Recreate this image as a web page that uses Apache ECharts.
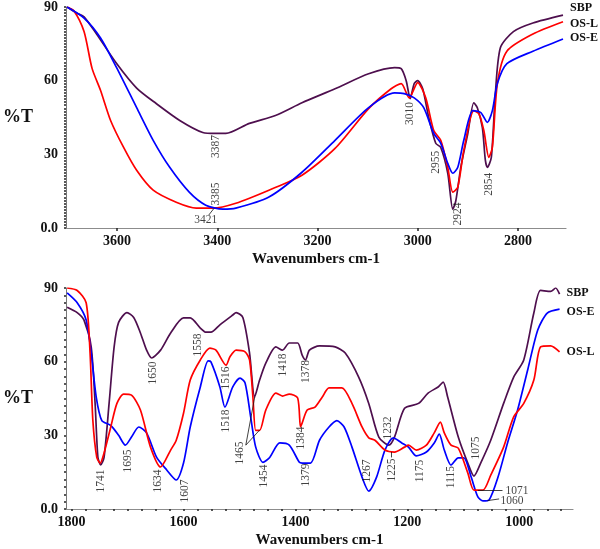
<!DOCTYPE html>
<html><head><meta charset="utf-8">
<script src="https://cdn.jsdelivr.net/npm/echarts@6/dist/echarts.min.js"></script>
<style>html,body{margin:0;padding:0;background:#fff}#c{width:600px;height:549px}</style>
</head><body><div id="c"></div>
<script>
// ---------- DATA ----------
const seriesNames = ['SBP', 'OS-L', 'OS-E'];

// Top panel (3700-2700 cm-1): [wavenumber, %T]
const topSBP = [[3700,90],[3680,87.5],[3666,86],[3641,79],[3601,67],[3561,57],[3522,50.7],[3475,43.8],[3429,38.9],[3403,38.5],[3383,38.5],[3336,42.6],[3284,45.8],[3231,51],[3165,56.7],[3098,62.8],[3046,65.3],[3033,64.9],[3023,60],[3015,52.7],[3007,58.8],[3000,60],[2990,56.7],[2978,45],[2964,34.5],[2954,32.8],[2940,22.3],[2930,7.7],[2924,11],[2914,24.7],[2900,38.5],[2888,51],[2881,49],[2871,41],[2865,27.6],[2861,24.7],[2853,28.8],[2845,54.7],[2835,73.4],[2809,80],[2770,83.5],[2710,86.7]];
const topOSL = [[3700,90],[3686,88.4],[3666,80],[3650,65],[3633,56],[3613,43.8],[3587,32.8],[3561,23.5],[3528,15.4],[3482,10.5],[3442,8.1],[3409,8.1],[3363,10.1],[3297,15.4],[3231,21.5],[3165,32.4],[3098,48.6],[3053,56.7],[3033,58.8],[3017,53],[3000,59.2],[2984,53],[2968,39.7],[2954,35.7],[2940,24.7],[2930,14.6],[2920,16.6],[2908,31.6],[2888,47.8],[2878,46.6],[2868,39.7],[2858,28.8],[2851,32.8],[2841,58.8],[2822,72],[2770,79],[2710,84]];
const topOSE = [[3700,90],[3666,85.5],[3633,77.4],[3601,65.3],[3561,49],[3528,35.7],[3495,24.7],[3456,14.6],[3423,9.3],[3389,7.7],[3363,8.1],[3297,12.6],[3231,22.7],[3165,35.7],[3098,49],[3046,55],[3027,54.7],[3007,53],[2988,49],[2968,38.5],[2954,34.5],[2940,26.3],[2930,22.3],[2920,24.7],[2908,35.7],[2890,47.8],[2874,47],[2861,43],[2851,47.8],[2841,58.8],[2822,66.9],[2770,72],[2710,77]];

// Bottom panel (1810-905 cm-1)
const botSBP = [[1808,82.2],[1790,80],[1778,77],[1765,66],[1758,43],[1753,21],[1748,18],[1742,21],[1733,43],[1724,66],[1716,76],[1701,80],[1689,78],[1677,71.7],[1666,64.7],[1657,61.5],[1641,64.7],[1623,71.7],[1600,77.8],[1588,77.8],[1570,73.7],[1560,72],[1551,72],[1535,75],[1512,79],[1506,80],[1494,78],[1482,63.5],[1473,45.6],[1464,52.5],[1453,59.4],[1435,66],[1423,64.7],[1411,67.6],[1396,67.6],[1388,62.7],[1382,60.7],[1375,64.7],[1357,66.4],[1329,66],[1311,63.5],[1287,53.7],[1269,43],[1251,29.3],[1233,26],[1223,29.3],[1205,41],[1180,43],[1163,47.2],[1145,49.7],[1136,51.7],[1128,45.6],[1109,29.3],[1092,18.7],[1081,13.4],[1069,18.7],[1051,28],[1028,43],[1010,53.7],[992,60.7],[974,79.8],[962,89],[944,88.6],[935,90],[928,87.5]];
const botOSL = [[1808,90],[1790,89],[1774,84],[1767,63.5],[1762,36],[1755,21],[1749,18.7],[1742,22.8],[1730,33.4],[1719,43],[1707,46.8],[1693,46.4],[1677,40.3],[1659,25.2],[1641,17.1],[1623,24],[1613,28],[1600,39],[1588,52.5],[1570,60.7],[1553,65.5],[1542,64.7],[1524,58.6],[1517,62],[1506,64.7],[1490,64],[1482,60.7],[1476,45.6],[1471,32],[1464,32],[1453,40.3],[1435,47.2],[1423,46],[1411,46.8],[1396,45.2],[1391,33.4],[1388,35],[1379,40.3],[1365,41.5],[1352,45.6],[1340,49.3],[1317,49.3],[1299,43],[1281,33.4],[1269,29],[1258,28],[1240,24],[1223,23.2],[1205,25.2],[1198,26],[1184,24],[1166,26],[1152,31],[1141,35.4],[1134,31],[1122,26],[1109,24.8],[1092,14.7],[1081,7.7],[1065,7.7],[1051,13.8],[1028,25.2],[1010,37.5],[992,43],[974,52.5],[962,66],[944,66.4],[928,64]];
const botOSE = [[1808,88],[1790,84],[1774,77],[1765,63.5],[1756,45.6],[1746,36],[1730,34],[1716,30],[1704,26],[1693,29.3],[1680,33.4],[1666,31],[1648,21],[1630,15.9],[1613,11.8],[1600,18.7],[1588,33.4],[1570,49.7],[1556,60.3],[1551,59.9],[1535,49.7],[1526,41.5],[1512,49.7],[1499,53.3],[1490,51.3],[1480,37.5],[1471,25.2],[1458,19],[1446,21],[1428,26.9],[1411,26],[1393,19],[1388,18.7],[1373,18.7],[1357,28],[1340,33.4],[1326,36],[1313,33.4],[1299,25.2],[1281,13],[1269,7.3],[1255,13],[1240,24],[1225,29],[1210,26.9],[1198,25.2],[1184,21.6],[1166,23.2],[1152,26.9],[1143,30.5],[1134,24],[1122,17.9],[1109,20.8],[1099,20.8],[1086,13],[1074,4.9],[1065,3.3],[1054,3.7],[1038,13],[1021,26.9],[1003,40.3],[985,56.6],[967,72.9],[950,79.8],[928,81.4]];

// Tick labels
const topXTicks = [3600, 3400, 3200, 3000, 2800];
const botXTicks = [1800, 1600, 1400, 1200, 1000];
const yTicks = [0, 30, 60, 90];

// Peak annotations: [wavenumber, %T (label anchor), text, orientation]
const topPeaks = [[3403,33.2,'3387','v'],[3403,13.8,'3385','v'],[3423,3.2,'3421','h'],[3015,46.6,'3010','v'],[2964,26.8,'2955','v'],[2920,5.7,'2924','v'],[2857,17.8,'2854','v']];
const botPeaks = [[1747.5,11.4,'1741','v'],[1699.6,19.5,'1695','v'],[1646.5,11.4,'1634','v'],[1596.8,7.3,'1607','v'],[1655.3,55.4,'1650','v'],[1573.8,66.8,'1558','v'],[1524,53.3,'1516','v'],[1524,35.8,'1518','v'],[1499,22.8,'1465','v'],[1456.7,13.4,'1454','v'],[1423,58.6,'1418','v'],[1389.4,28.9,'1384','v'],[1381,56,'1378','v'],[1382,13.8,'1379','v'],[1272.3,15.5,'1267','v'],[1235,33,'1232','v'],[1228,15.9,'1225','v'],[1176.6,15.5,'1175','v'],[1121.6,13,'1115','v'],[1077,24.8,'1075','v'],[1004,7.3,'1071','h'],[1013,3.1,'1060','h']];
// Leader lines: [[w1,T1],[w2,T2]]
const topLeaders = [[[3407,7.9],[3417,5.3]]];
const botLeaders = [[[1488.7,26],[1472.7,45.6]],[[1488.7,26],[1463.8,32.2]],[[1228,23.2],[1228,21]],[[1074,7.7],[1030,7.7]],[[1057,3.4],[1036,4.1]]];

// ---------- CHART ----------
const colorMap = {'SBP':'#4e0f4e','OS-L':'#ff0000','OS-E':'#0000ff'};
const serif = 'Liberation Serif, Times New Roman, serif';
const chart = echarts.init(document.getElementById('c'), null, {renderer:'canvas'});

function range(a, b, s){ const r=[]; for(let v=a; v<=b+1e-9; v+=s) r.push(+v.toFixed(3)); return r; }

function xAxisDef(grid, min, max, ticks, minorStep){
  return {
    type:'value', gridIndex:grid, min:min, max:max, inverse:true,
    name:'Wavenumbers cm-1', nameLocation:'middle', nameGap:24,
    nameTextStyle:{fontFamily:serif, fontWeight:'bold', fontSize:15, color:'#111'},
    axisLine:{show:true, onZero:false, lineStyle:{color:'#8c8c8c', width:1.2}},
    axisTick:{show:true, customValues: minorStep ? range(Math.ceil(min/minorStep)*minorStep, max, minorStep) : ticks, length: minorStep?2:3, lineStyle:{color:'#222', width:1.5}},
    axisLabel:{customValues:ticks, margin:6, fontFamily:serif, fontWeight:'bold', fontSize:14, color:'#111', formatter:v => String(v)},
    splitLine:{show:false}
  };
}
function yAxisDef(grid, step){
  return {
    type:'value', gridIndex:grid, min:0, max:90,
    name:'%T', nameLocation:'middle', nameRotate:0, nameGap:33,
    nameTextStyle:{fontFamily:serif, fontWeight:'bold', fontSize:18, color:'#111'},
    axisLine:{show:true, onZero:false, lineStyle:{color:'#777', width:1}},
    axisTick:{show:true, customValues:range(0,90,step), length:2, lineStyle:{color:'#222', width:1.5}},
    axisLabel:{customValues:yTicks, margin:8, fontFamily:serif, fontWeight:'bold', fontSize:14, color:'#111',
      formatter:v => v === 0 ? '0.0' : String(v)},
    splitLine:{show:false}
  };
}

const nameOffsets = [
  {'SBP':[0,-7],'OS-L':[0,2],'OS-E':[0,-1]},
  {'SBP':[0,-1],'OS-E':[0,3],'OS-L':[0,0]}
];

function lineSeries(name, data, grid){
  const d = data.map((p,i) => i === data.length-1 ? {value:p, label:{show:true, position:'right', distance:7, offset:nameOffsets[grid][name], formatter:name, fontFamily:serif, fontWeight:'bold', fontSize:12, color:'#111'}} : p);
  return {
    type:'line', name:name, xAxisIndex:grid, yAxisIndex:grid, data:d,
    showSymbol:true, symbol:'circle', symbolSize:0, smooth:0.25,
    lineStyle:{color:colorMap[name], width:1.7}, itemStyle:{color:colorMap[name]},
    label:{show:false}, animation:false, z:3, silent:true
  };
}
function peakSeries(peaks, grid){
  return {
    type:'scatter', xAxisIndex:grid, yAxisIndex:grid, symbolSize:0, silent:true, animation:false, z:5,
    data: peaks.map(p => ({value:[p[0],p[1]], label:{rotate: p[3]==='v'?90:0}, name:p[2]})),
    label:{show:true, position:'inside', formatter:'{b}', fontFamily:serif, fontSize:11.5, color:'#111'}
  };
}
function leaderSeries(lines, grid){
  return {
    type:'lines', coordinateSystem:'cartesian2d', xAxisIndex:grid, yAxisIndex:grid, silent:true, animation:false, z:4,
    data: lines.map(l => ({coords:l})), lineStyle:{color:'#111', width:0.8, opacity:1}
  };
}

chart.setOption({
  backgroundColor:'#fff',
  animation:false,
  grid:[
    {left:62, top:6, width:504, height:222},
    {left:62, top:288, width:511, height:221}
  ],
  xAxis:[ xAxisDef(0, 2704, 3702, topXTicks, null), xAxisDef(1, 904, 1810, botXTicks, 25) ],
  yAxis:[ yAxisDef(0, 1.25), yAxisDef(1, 3) ],
  series:[
    lineSeries('SBP', topSBP, 0), lineSeries('OS-L', topOSL, 0), lineSeries('OS-E', topOSE, 0),
    lineSeries('SBP', botSBP, 1), lineSeries('OS-E', botOSE, 1), lineSeries('OS-L', botOSL, 1),
    peakSeries(topPeaks, 0), peakSeries(botPeaks, 1),
    leaderSeries(topLeaders, 0), leaderSeries(botLeaders, 1)
  ]
});
</script></body></html>
